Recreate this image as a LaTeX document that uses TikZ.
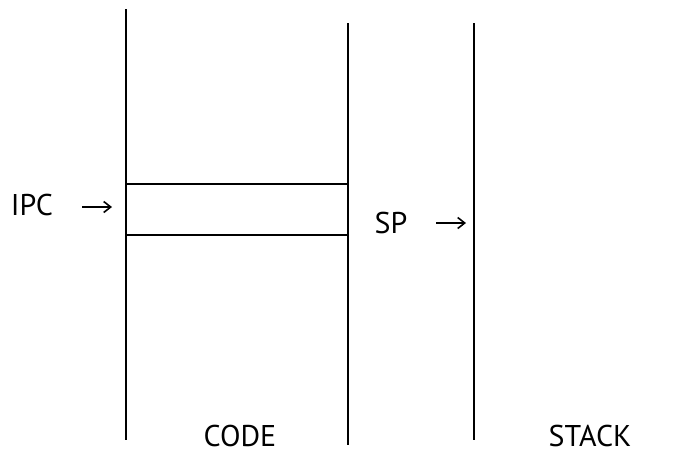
\documentclass[tikz,border=0pt]{standalone}
\usepackage{fontspec}
\setmainfont{PT Sans}
\usetikzlibrary{arrows.meta}
\begin{document}
\begin{tikzpicture}[x=1pt,y=-1pt,
  wall/.style={line width=1.8pt},
  lbl/.style={anchor=base,inner sep=0pt,text depth=0pt,font=\fontsize{30}{32}\selectfont},
  ptr/.style={line width=1.6pt,-{Straight Barb[length=7pt,width=11pt,line width=1.6pt]}}]
\useasboundingbox (0,0) rectangle (699,453);
% columns
\coordinate (c1t) at (126,9);   \coordinate (c1b) at (126,440);
\coordinate (c2t) at (348,23);  \coordinate (c2b) at (348,445);
\coordinate (c3t) at (474,23);  \coordinate (c3b) at (474,440);
\draw[wall] (c1t) -- (c1b);
\draw[wall] (c2t) -- (c2b);
\draw[wall] (c3t) -- (c3b);
% instruction slot
\coordinate (s1l) at (126,184); \coordinate (s1r) at (348,184);
\coordinate (s2l) at (126,235); \coordinate (s2r) at (348,235);
\draw[wall] (s1l) -- (s1r);
\draw[wall] (s2l) -- (s2r);
% labels
\node[lbl] (ipc) at (32,215) {IPC};
\node[lbl] (sp) at (391,233) {SP};
\node[lbl] (code) at (240,446) {CODE};
\node[lbl] (stack) at (590,446) {STACK};
% pointers
\coordinate (ipcs) at (82,207);  \coordinate (ipce) at (112,207);
\coordinate (sps) at (436,223);  \coordinate (spe) at (466,223);
\draw[ptr] (ipcs) -- (ipce);
\draw[ptr] (sps) -- (spe);
\end{tikzpicture}
\end{document}
